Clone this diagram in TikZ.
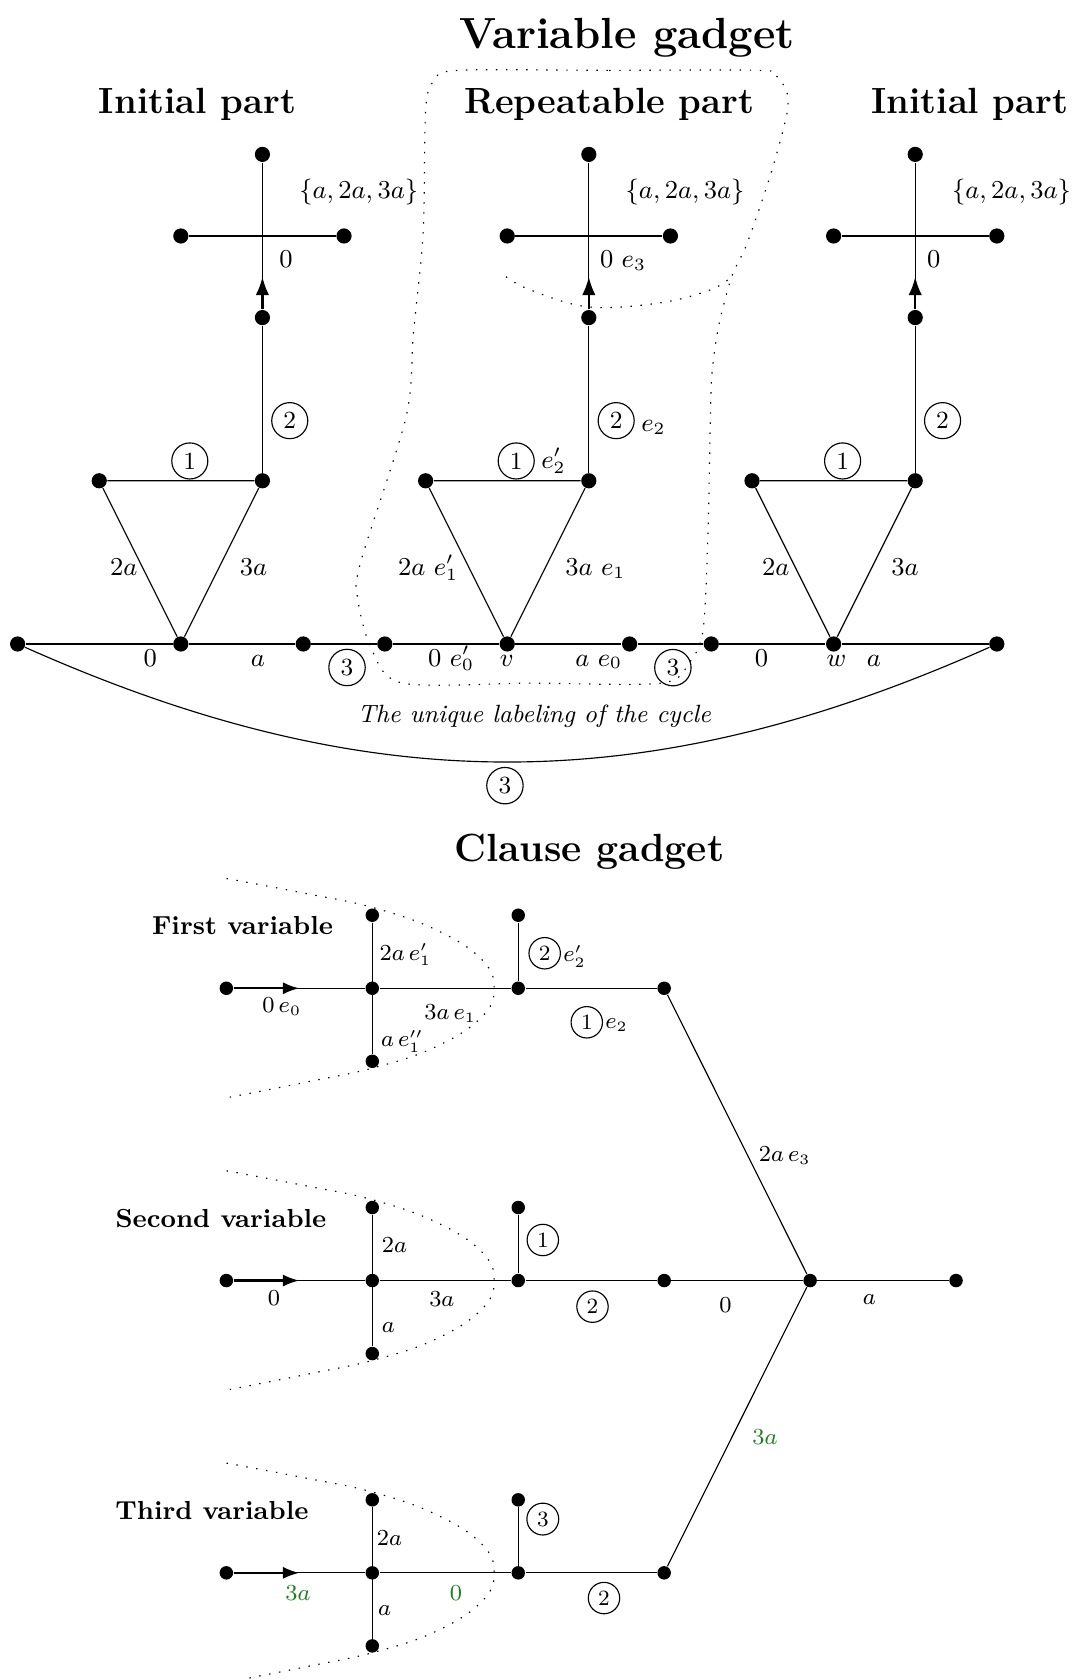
\documentclass[tikz,border=0pt]{standalone}
\usetikzlibrary{positioning, arrows.meta}
\definecolor{labelgreen}{rgb}{0.12,0.5,0.12}

\begin{document}
\begin{tikzpicture}[
    vertex/.style={circle, fill, inner sep=0pt, minimum size=5.3pt},
    cvertex/.style={circle, fill, inner sep=0pt, minimum size=4.7pt},
    pointer/.style={thick, -{Latex[length=6.4pt, width=4.7pt]}},
    cpointer/.style={thick, -{Latex[length=5.7pt, width=4.2pt]}},
    edgefont/.style={font=\fontsize{8.6}{10}\selectfont, inner sep=0pt, anchor=base},
    cedgefont/.style={font=\fontsize{7.6}{9}\selectfont, inner sep=0pt, anchor=base},
    ring/.style={draw, circle, inner sep=1.9pt, font=\fontsize{8.6}{10}\selectfont},
    cring/.style={draw, circle, inner sep=1.6pt, font=\fontsize{7.6}{9}\selectfont},
    bigtitle/.style={font=\fontsize{15.2}{18}\selectfont\bfseries, inner sep=0pt, anchor=base},
    parttitle/.style={font=\fontsize{12.7}{15}\selectfont\bfseries, inner sep=0pt, anchor=base},
    rowtitle/.style={font=\fontsize{9.1}{11}\selectfont\bfseries, inner sep=0pt, anchor=base},
    region/.style={dash pattern=on 0.5pt off 3pt}
]

\useasboundingbox (-2.216,-12.684) rectangle (10.934,7.892);

% Titles of the variable gadget
\node[bigtitle] (vtitle) at (5.468,7.30) {Variable gadget};
\node[parttitle] (part0) at (0.205,6.504) {Initial part};
\node[parttitle] (part1) at (5.253,6.504) {Repeatable part};
\node[parttitle] (part2) at (9.669,6.504) {Initial part};

% Triangle and cross of each part (the middle one carries the edge names)
\foreach \g/\lx/\ltxt/\rx/\rtxt/\zx/\ztxt in {0/-0.70/{2a}/0.89/{3a}/1.20/{0},
        1/-0.97/{2a\ e'_1}/1.08/{3a\ e_1}/1.13/{0\ e_3},
        2/-0.71/{2a}/0.875/{3a}/1.14/{0}} {
    \pgfmathsetmacro{\x}{4*\g}
    \node[vertex] (B\g) at (\x,0) {};
    \node[vertex] (TL\g) at (\x-1,2) {};
    \node[vertex] (TR\g) at (\x+1,2) {};
    \node[vertex] (L\g) at (\x+1,4) {};
    \coordinate (M\g) at (\x+1,4.5);
    \node[vertex] (CW\g) at (\x,5) {};
    \node[vertex] (CE\g) at (\x+2,5) {};
    \node[vertex] (CN\g) at (\x+1,6) {};
    \draw (TL\g) -- (TR\g) -- (B\g) -- (TL\g);
    \draw (TR\g) -- (L\g) -- (CN\g);
    \draw (CW\g) -- (CE\g);
    \draw[pointer] (L\g) -- (M\g);
    \node[ring] (one\g) at (\x+0.11,2.243) {1};
    \node[ring] (two\g) at (\x+1.335,2.737) {2};
    \node[edgefont] (left\g) at (\x+\lx,0.84) {$\ltxt$};
    \node[edgefont] (right\g) at (\x+\rx,0.84) {$\rtxt$};
    \node[edgefont, anchor=base west] (zero\g) at (\x+\zx,4.61) {$\ztxt$};
    \node[edgefont, anchor=center] (set\g) at (\x+2.18,5.543) {$\{a,2a,3a\}$};
}
\node[edgefont] (e2p) at (4.567,2.153) {$e'_2$};
\node[edgefont] (e2) at (5.793,2.602) {$e_2$};

% The cycle along the bottom
\node[vertex] (P0) at (-2,0) {};
\node[vertex] (P1) at (1.5,0) {};
\node[vertex] (P2) at (2.5,0) {};
\node[vertex] (P3) at (5.5,0) {};
\node[vertex] (P4) at (6.5,0) {};
\node[vertex] (P5) at (10,0) {};
\draw (P0) -- (B0) -- (P1) -- (P2) -- (B1) -- (P3) -- (P4) -- (B2) -- (P5);
\draw (P0) to[bend right=24] (P5);

\foreach \lx/\ltxt [count=\i] in {-0.375/0, 0.944/a, 3.313/{0\ e'_0}, 3.995/v,
        5.121/{a\ e_0}, 7.116/0, 8.035/w, 8.495/a} {
    \node[edgefont] (low\i) at (\lx,-0.27) {$\ltxt$};
}
\node[ring] (three1) at (2.037,-0.288) {3};
\node[ring] (three2) at (6.03,-0.29) {3};
\node[ring] (three3) at (3.972,-1.736) {3};
\node[font=\fontsize{8.7}{10}\selectfont\itshape, inner sep=0pt, anchor=base] (cycle) at (4.331,-0.96) {The unique labeling of the cycle};

% Outline of the repeatable part
\draw[region] plot[smooth cycle, tension=0.5] coordinates {
    (3.40,7.03) (5.25,7.03) (7.10,7.03) (7.30,6.96) (7.43,6.75)
    (7.42,6.46) (7.22,5.73) (6.94,4.91) (6.75,4.50) (6.59,3.89)
    (6.51,3.32) (6.49,2.78) (6.46,1.36)
    (6.40,0.17) (6.23,-0.23) (5.89,-0.48) (4.30,-0.48) (2.72,-0.48)
    (2.34,-0.07) (2.17,0.54) (2.20,0.99) (2.76,2.78) (2.85,3.81)
    (2.97,5.04) (3.00,6.54) (3.10,6.90)};
\draw[region] plot[smooth, tension=0.6] coordinates {
    (3.985,4.50) (4.28,4.34) (5.00,4.13) (5.87,4.18) (6.49,4.34) (6.75,4.50)};

% Clause gadget
\node[bigtitle, font=\fontsize{13.7}{16}\selectfont\bfseries] (ctitle) at (5.005,-2.668) {Clause gadget};

\foreach \r/\y/\tx/\rname in {1/-4.219/0.757/First variable,
        2/-7.801/0.492/Second variable, 3/-11.383/0.382/Third variable} {
    \begin{scope}[shift={(0,\y)}]
        \node[cvertex] (I\r) at (0.558,0) {};
        \node[cvertex] (X\r) at (2.3465,0) {};
        \node[cvertex] (XU\r) at (2.3465,0.895) {};
        \node[cvertex] (XD\r) at (2.3465,-0.895) {};
        \node[cvertex] (J\r) at (4.135,0) {};
        \node[cvertex] (JU\r) at (4.135,0.895) {};
        \node[cvertex] (K\r) at (5.9235,0) {};
        \coordinate (IM\r) at (1.4522,0);
        \draw (I\r) -- (X\r) -- (J\r) -- (K\r);
        \draw (XU\r) -- (XD\r);
        \draw (J\r) -- (JU\r);
        \draw[cpointer] (I\r) -- (IM\r);
        \draw[region] plot[smooth, tension=0.7] coordinates {
            (0.56,1.345) (1.54,1.16) (2.35,0.99) (3.12,0.72) (3.68,0.36) (3.84,0)
            (3.68,-0.36) (3.12,-0.72) (2.38,-0.97) (1.54,-1.15) (0.60,-1.335)};
        \node[rowtitle] (row\r) at (\tx,0.653) {\rname};
    \end{scope}
}

\node[cvertex] (hub) at (7.712,-7.801) {};
\node[cvertex] (out) at (9.5005,-7.801) {};
\draw (K1) -- (hub);
\draw (K2) -- (hub) -- (out);
\draw (K3) -- (hub);

% First variable
\node[cedgefont, anchor=base west] (f1) at (2.43,-3.873) {$2a\,e'_1$};
\node[cedgefont] (f2) at (1.238,-4.521) {$0\,e_0$};
\node[cedgefont] (f3) at (3.301,-4.600) {$3a\,e_1$};
\node[cedgefont, anchor=base west] (f4) at (2.447,-4.934) {$a\,e''_1$};
\node[cring] (f5) at (4.459,-3.790) {2};
\node[cedgefont] (f6) at (4.825,-3.893) {$e'_2$};
\node[cring] (f7) at (4.975,-4.636) {1};
\node[cedgefont] (f8) at (5.34,-4.71) {$e_2$};

% Second variable
\node[cedgefont, anchor=base west] (s1) at (2.457,-7.459) {$2a$};
\node[cedgefont] (s2) at (1.143,-8.109) {$0$};
\node[cedgefont] (s3) at (3.199,-8.121) {$3a$};
\node[cedgefont, anchor=base west] (s4) at (2.457,-8.435) {$a$};
\node[cring] (s5) at (4.436,-7.304) {1};
\node[cring] (s6) at (5.045,-8.121) {2};
\node[cedgefont] (s7) at (6.673,-8.195) {$0$};
\node[cedgefont] (s8) at (8.437,-8.092) {$a$};
\node[cedgefont, anchor=base west] (s9) at (7.077,-6.344) {$2a\,e_3$};
\node[cedgefont, text=labelgreen] (s10) at (7.159,-9.804) {$3a$};

% Third variable
\node[cedgefont, anchor=base west] (t1) at (2.396,-11.05) {$2a$};
\node[cedgefont, text=labelgreen] (t2) at (1.435,-11.719) {$3a$};
\node[cedgefont, text=labelgreen] (t3) at (3.371,-11.719) {$0$};
\node[cedgefont, anchor=base west] (t4) at (2.41,-11.9) {$a$};
\node[cring] (t5) at (4.436,-10.724) {3};
\node[cring] (t6) at (5.186,-11.692) {2};

\end{tikzpicture}
\end{document}
